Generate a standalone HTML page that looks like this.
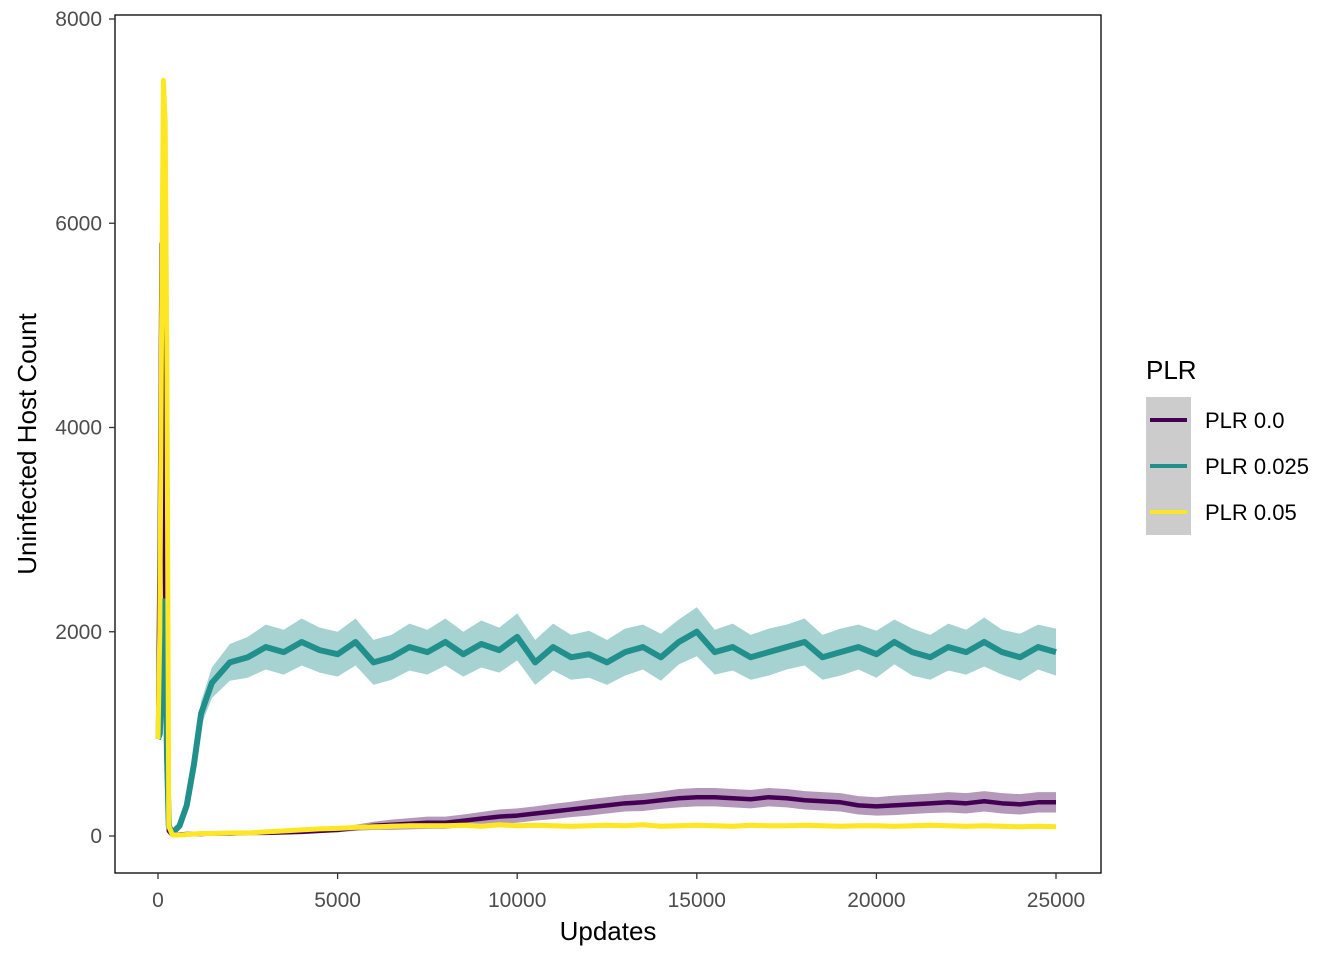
<!DOCTYPE html>
<html><head><meta charset="utf-8"><style>
body{margin:0;background:#fff;}
svg text{font-family:"Liberation Sans",Arial,sans-serif;}
</style></head><body>
<svg id="chart" width="1344" height="960" xmlns="http://www.w3.org/2000/svg">
<rect x="0" y="0" width="1344" height="960" fill="#fff"/>
<g id="plot"></g>
<rect x="115" y="15" width="986" height="858" fill="none" stroke="#000" stroke-width="1.3"/>
<g id="axes"></g>
<text x="608" y="940" font-size="26" text-anchor="middle" fill="#000">Updates</text>
<text transform="translate(36,444) rotate(-90)" font-size="26" text-anchor="middle" fill="#000">Uninfected Host Count</text>
<g>
<text x="1146" y="379" font-size="26" fill="#000">PLR</text>
<rect x="1146" y="397" width="45" height="138" fill="#cccccc"/>
<g><line x1="1150" x2="1187" y1="420" y2="420" stroke="#440154" stroke-width="4"/><text x="1205" y="428" font-size="22" fill="#000">PLR 0.0</text></g>
<g><line x1="1150" x2="1187" y1="466" y2="466" stroke="#21908C" stroke-width="4"/><text x="1205" y="474" font-size="22" fill="#000">PLR 0.025</text></g>
<g><line x1="1150" x2="1187" y1="512" y2="512" stroke="#FDE725" stroke-width="4"/><text x="1205" y="520" font-size="22" fill="#000">PLR 0.05</text></g>
</g>
</svg>
<script>
const xs=[0,50,100,150,200,250,300,400,600,800,1000,1200,1500,2000,2500,
3000,3500,4000,4500,5000,5500,6000,6500,7000,7500,8000,8500,9000,9500,10000,
10500,11000,11500,12000,12500,13000,13500,14000,14500,15000,15500,16000,16500,17000,17500,
18000,18500,19000,19500,20000,20500,21000,21500,22000,22500,23000,23500,24000,24500,25000];
const tealMean=[950,1000,1500,2300,2000,800,100,30,100,300,700,1200,1500,1700,1750,
1850,1800,1900,1820,1780,1900,1700,1750,1850,1800,1900,1780,1880,1820,1950,
1700,1850,1750,1780,1700,1800,1850,1750,1900,2000,1800,1850,1750,1800,1850,
1900,1750,1800,1850,1780,1900,1800,1750,1850,1800,1900,1800,1750,1850,1800];
const tealSpread=[0,0,0,0,0,0,0,0,20,40,80,120,150,180,200,
220,220,230,220,220,230,220,220,230,220,230,220,230,220,230,
220,230,220,230,220,230,220,230,220,240,220,230,220,230,220,
230,220,230,220,230,220,230,220,230,220,240,220,230,220,230];
const purpleMean=[950,3000,5800,4000,2300,3200,50,10,15,20,20,20,25,25,30,
30,35,40,50,60,80,100,110,120,130,130,150,170,190,200,
220,240,260,280,300,320,330,350,370,380,380,370,360,380,370,
350,340,330,300,290,300,310,320,330,320,340,320,310,330,330];
const purpleSpread=[0,0,0,0,0,0,0,0,5,5,5,5,5,8,10,
10,12,15,20,25,30,40,50,55,60,60,60,65,70,70,
70,75,75,80,80,80,85,85,90,90,90,90,90,90,90,
90,90,90,90,90,95,95,95,100,100,100,100,100,100,100];
const yellowMean=[950,2000,5000,7400,7000,4500,100,10,10,15,20,25,25,30,30,
40,50,60,70,75,85,90,95,100,100,100,105,95,110,100,
105,100,95,100,105,100,110,95,100,105,100,95,105,100,100,
105,100,95,100,100,95,100,105,100,95,100,95,90,95,90];
const yellowSpread=[0,0,0,0,0,0,0,0,5,5,5,8,8,10,10,
12,15,15,18,20,20,20,25,25,25,25,25,25,25,25,
25,25,25,25,25,25,25,25,25,25,25,25,25,25,25,
25,25,25,25,25,25,25,25,25,25,25,25,25,25,25];
const xTicks=[0,5000,10000,15000,20000,25000];
const yTicks=[0,2000,4000,6000,8000];

const X=v=>158+v*(1056-158)/25000;
const Y=v=>836-v*(836-19)/8000;
const NS="http://www.w3.org/2000/svg";
const plot=document.getElementById('plot'), axes=document.getElementById('axes');
function mk(t,a,p){const e=document.createElementNS(NS,t);for(const k in a)e.setAttribute(k,a[k]);p.appendChild(e);return e;}
const series=[
 {n:'plr-0',m:purpleMean,s:purpleSpread,c:'#440154',w:4.5},
 {n:'plr-0025',m:tealMean,s:tealSpread,c:'#21908C',w:6},
 {n:'plr-005',m:yellowMean,s:yellowSpread,c:'#FDE725',w:5}];
series.forEach(sr=>{
 let up=xs.map((x,i)=>X(x)+','+Y(sr.m[i]+sr.s[i]));
 let lo=xs.map((x,i)=>X(x)+','+Y(Math.max(0,sr.m[i]-sr.s[i]))).reverse();
 const r=mk('polygon',{points:up.concat(lo).join(' '),fill:sr.c,'fill-opacity':0.4,stroke:'none'},plot);
 
 
 const l=mk('polyline',{points:xs.map((x,i)=>X(x)+','+Y(sr.m[i])).join(' '),fill:'none',stroke:sr.c,'stroke-width':sr.w,'stroke-linejoin':'round'},plot);
 
 
});
xTicks.forEach(t=>{
 const g=mk('g',{},axes);
 
 
 mk('line',{x1:X(t),x2:X(t),y1:873,y2:879,stroke:'#333','stroke-width':1.3},g);
 const tx=mk('text',{x:X(t),y:907,'font-size':21,'text-anchor':'middle',fill:'#4d4d4d'},g);tx.textContent=t;
});
yTicks.forEach(t=>{
 const g=mk('g',{},axes);
 
 
 mk('line',{x1:109,x2:115,y1:Y(t),y2:Y(t),stroke:'#333','stroke-width':1.3},g);
 const tx=mk('text',{x:102,y:Y(t)+7,'font-size':21,'text-anchor':'end',fill:'#4d4d4d'},g);tx.textContent=t;
});
</script>
</body></html>
